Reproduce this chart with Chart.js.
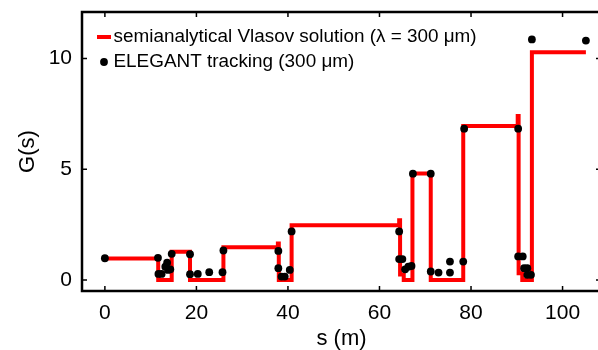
<!DOCTYPE html>
<html>
<head>
<meta charset="utf-8">
<script src="https://cdn.jsdelivr.net/npm/chart.js@4.4.1/dist/chart.umd.min.js"></script>
<style>
  html, body { margin: 0; padding: 0; background: #fff; overflow: hidden; }
  #wrap { width: 598px; height: 350px; overflow: hidden; }
</style>
</head>
<body>
<div id="wrap"><canvas id="chart_one" width="612" height="350"></canvas></div>
<script>
// semianalytical Vlasov solution (step curve)
var lineS = [0, 11.65, 11.65, 14.6, 14.6, 18.6, 18.6, 25.9, 25.9, 37.8, 37.8, 38.0, 38.0, 40.8, 40.8,
  64.3, 64.3, 64.5, 64.5, 65.3, 65.3, 67.2, 67.2, 71.2, 71.2, 78.3, 78.3, 90.2, 90.2, 90.4, 90.4,
  91.2, 91.2, 93.3, 93.3, 105.1];
var lineG = [0.97, 0.97, 0, 0, 1.27, 1.27, 0, 0, 1.48, 1.48, 1.65, 1.65, 0, 0, 2.47,
  2.47, 2.7, 2.7, 0.25, 0.25, 0, 0, 4.81, 4.81, 0, 0, 6.95, 6.95, 7.4, 7.4, 0.3,
  0.3, 0, 0, 10.28, 10.28];

// ELEGANT tracking points
var trackS = [0, 11.6, 11.7, 12.4, 13.2, 13.6, 13.8, 14.3, 14.6, 18.6, 18.6, 20.3, 22.8, 25.7, 25.9,
  37.9, 37.9, 38.6, 39.3, 40.4, 40.8, 64.3, 64.3, 65.0, 65.6, 66.3, 67.0, 67.3, 71.2, 71.2,
  72.9, 75.4, 75.4, 78.3, 78.5, 90.3, 90.3, 91.3, 91.6, 92.3, 92.3, 93.1, 93.3, 105.1];
var trackG = [0.98, 1.0, 0.27, 0.27, 0.6, 0.78, 0.45, 0.48, 1.18, 1.16, 0.26, 0.27, 0.35, 0.35, 1.33,
  1.31, 0.53, 0.15, 0.15, 0.45, 2.19, 2.19, 0.94, 0.94, 0.48, 0.6, 0.63, 4.8, 4.8, 0.38,
  0.33, 0.83, 0.33, 0.83, 6.83, 6.83, 1.06, 1.06, 0.53, 0.53, 0.23, 0.23, 10.86, 10.81];

var xTicks = [0, 20, 40, 60, 80, 100];
var yTicks = [0, 5, 10];
var lineLabel = "semianalytical Vlasov solution (\u03bb = 300 \u03bcm)";
var trackLabel = "ELEGANT tracking (300 \u03bcm)";

var fontFam = "'Liberation Sans', Arial, Helvetica, sans-serif";

function toPoints(xs, ys) {
  return xs.map(function (x, i) { return { x: x, y: ys[i] }; });
}

// box, inward ticks on all sides and the legend
var framePlugin = {
  id: "frame",
  afterDraw: function (chart) {
    var ctx = chart.ctx;
    var a = chart.chartArea;
    var xs = chart.scales.x, ys = chart.scales.y;
    ctx.save();
    ctx.strokeStyle = "#000";
    ctx.lineWidth = 1.5;
    xTicks.forEach(function (v) {
      var px = xs.getPixelForValue(v);
      ctx.beginPath();
      ctx.moveTo(px, a.bottom); ctx.lineTo(px, a.bottom - 5);
      ctx.moveTo(px, a.top); ctx.lineTo(px, a.top + 5);
      ctx.stroke();
    });
    yTicks.forEach(function (v) {
      var py = ys.getPixelForValue(v);
      ctx.beginPath();
      ctx.moveTo(a.left, py); ctx.lineTo(a.left + 5, py);
      ctx.moveTo(a.right, py); ctx.lineTo(a.right - 5, py);
      ctx.stroke();
    });
    ctx.lineWidth = 2.5;
    ctx.strokeRect(a.left, a.top, a.right - a.left, a.bottom - a.top);

    // legend
    ctx.font = "18.9px " + fontFam;
    ctx.textBaseline = "middle";
    ctx.textAlign = "left";
    ctx.fillStyle = "#000";
    ctx.strokeStyle = "#ff0000";
    ctx.lineWidth = 4;
    ctx.beginPath();
    ctx.moveTo(97, 37); ctx.lineTo(111, 37);
    ctx.stroke();
    ctx.fillText(lineLabel, 113.5, 37);
    ctx.beginPath();
    ctx.arc(104, 62, 3.9, 0, Math.PI * 2);
    ctx.fill();
    ctx.fillText(trackLabel, 113.5, 62);
    ctx.restore();
  }
};

var lineChart = new Chart(document.getElementById("chart_one").getContext("2d"), {
  type: "line",
  data: {
    datasets: [
      {
        label: trackLabel,
        data: toPoints(trackS, trackG),
        showLine: false,
        pointRadius: 3.9,
        pointBackgroundColor: "#000",
        pointBorderWidth: 0,
        order: 0
      },
      {
        label: lineLabel,
        data: toPoints(lineS, lineG),
        borderColor: "#ff0000",
        borderWidth: 4,
        pointRadius: 0,
        fill: false,
        tension: 0,
        order: 1
      }
    ]
  },
  options: {
    responsive: false,
    animation: false,
    layout: { padding: { top: 12, right: 11, left: 0, bottom: 0 } },
    plugins: {
      legend: { display: false },
      tooltip: { enabled: false }
    },
    scales: {
      x: {
        type: "linear",
        min: -5,
        max: 108.4,
        grid: { display: false },
        border: { display: false },
        afterBuildTicks: function (s) { s.ticks = xTicks.map(function (v) { return { value: v }; }); },
        afterFit: function (s) { s.height = 59; s.paddingLeft = 0; s.paddingRight = 0; },
        ticks: {
          color: "#000",
          padding: 2,
          maxRotation: 0,
          font: { family: fontFam, size: 21 }
        },
        title: {
          display: true,
          text: "s (m)",
          color: "#000",
          padding: 0,
          font: { family: fontFam, size: 22, lineHeight: 1 }
        }
      },
      y: {
        type: "linear",
        min: -0.5,
        max: 12.1,
        grid: { display: false },
        border: { display: false },
        afterBuildTicks: function (s) { s.ticks = yTicks.map(function (v) { return { value: v }; }); },
        afterFit: function (s) { s.width = 82; s.paddingTop = 0; s.paddingBottom = 0; },
        ticks: {
          color: "#000",
          padding: 2,
          font: { family: fontFam, size: 21 }
        },
        title: {
          display: true,
          text: "G(s)",
          color: "#000",
          padding: { top: 17, bottom: 0 },
          font: { family: fontFam, size: 22, lineHeight: 1 }
        }
      }
    }
  },
  plugins: [framePlugin]
});
</script>
</body>
</html>
